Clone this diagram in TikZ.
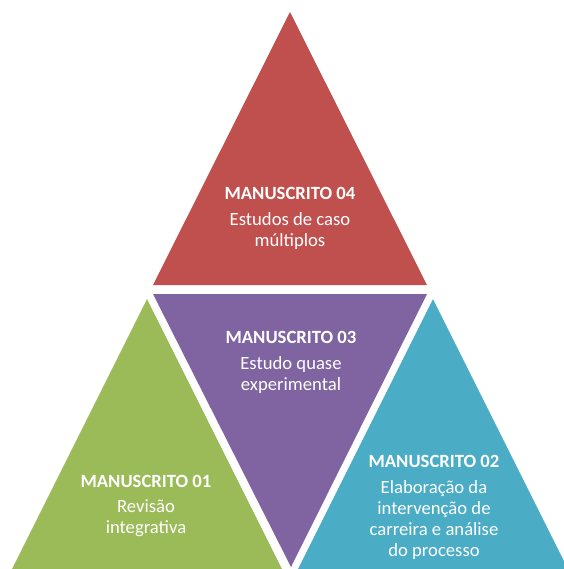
\documentclass[tikz,border=0pt]{standalone}
\usepackage{fontspec}
\setmainfont{Carlito}
\definecolor{mred}{HTML}{C0504D}
\definecolor{mpurple}{HTML}{8064A2}
\definecolor{mgreen}{HTML}{9BBB59}
\definecolor{mblue}{HTML}{4BACC6}
\tikzset{
  heading/.style={text=white, font=\fontsize{14}{16}\selectfont\bfseries, inner sep=0pt},
  body/.style={text=white, font=\fontsize{14}{15.75}\selectfont, align=center, inner sep=0pt},
}
\begin{document}
\begin{tikzpicture}[x=0.75pt,y=-0.75pt]
\useasboundingbox (0,0) rectangle (564,569);
% four triangles of the pyramid
\fill[mred]    (290,12)  -- (427,285) -- (153,285) -- cycle;
\fill[mpurple] (153,294) -- (427,294) -- (291,567) -- cycle;
\fill[mgreen]  (147,299) -- (282,569) -- (12,569)  -- cycle;
\fill[mblue]   (433,299) -- (568,569) -- (298,569) -- cycle;
% labels
\node[heading] (h4) at (290,193) {MANUSCRITO 04};
\node[body]    (b4) at (290,231.5) {Estudos de caso\\múltiplos};
\node[heading] (h3) at (291,337) {MANUSCRITO 03};
\node[body]    (b3) at (291,375.5) {Estudo quase\\experimental};
\node[heading] (h1) at (146,481) {MANUSCRITO 01};
\node[body]    (b1) at (146,518.5) {Revisão\\integrativa};
\node[heading] (h2) at (434,461) {MANUSCRITO 02};
\node[body]    (b2) at (434,520) {Elaboração da\\intervenção de\\carreira e análise\\do processo};
\end{tikzpicture}
\end{document}
